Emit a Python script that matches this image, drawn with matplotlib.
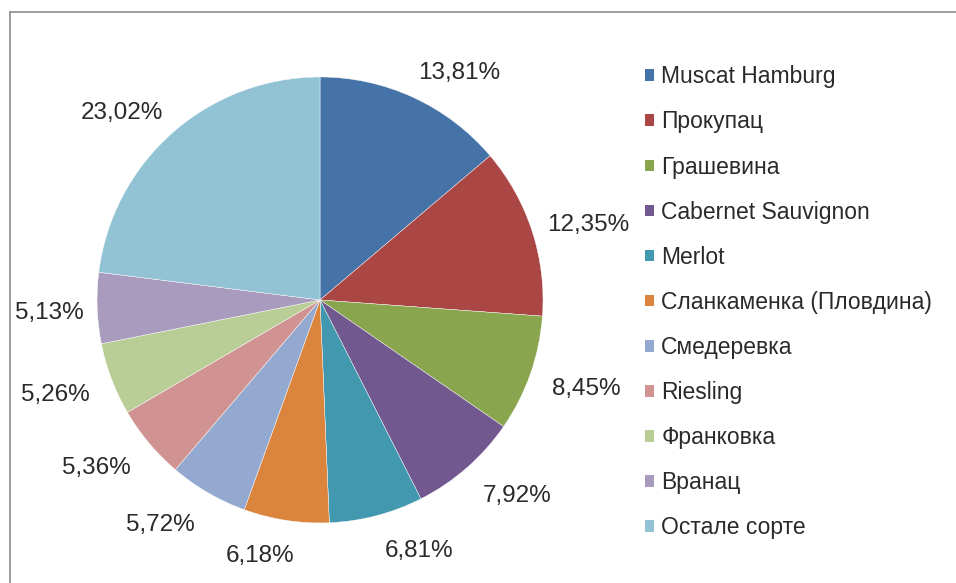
import matplotlib.pyplot as plt
import numpy as np
from matplotlib.patches import Patch
from matplotlib.lines import Line2D

plt.rcParams['font.family'] = ['Liberation Sans', 'DejaVu Sans']

sorts = ["Muscat Hamburg", "Прокупац", "Грашевина", "Cabernet Sauvignon", "Merlot",
         "Сланкаменка (Пловдина)", "Смедеревка", "Riesling", "Франковка", "Вранац",
         "Остале сорте"]
shares = [13.81, 12.35, 8.45, 7.92, 6.81, 6.18, 5.72, 5.36, 5.26, 5.13, 23.02]
colors = ["#4572A7", "#AA4643", "#89A54E", "#71588F", "#4198AF", "#DB843D",
          "#93A9CF", "#D19392", "#B9CD96", "#A99BBD", "#92C3D5"]

fig = plt.figure(figsize=(9.56, 5.83), dpi=100)
ax = fig.add_axes([0.1015, 0.103, 0.4665, 0.765])

wedges, _ = ax.pie(shares, colors=colors, startangle=90, counterclock=False,
                   wedgeprops=dict(edgecolor="white", linewidth=0.3))
ax.set_xlim(-1, 1)
ax.set_ylim(-1, 1)
ax.set_aspect("equal")

# labels sit just outside the rim, box corner turned towards the pie (Excel style)
labels = []
for w, v in zip(wedges, shares):
    ang = np.deg2rad((w.theta1 + w.theta2) / 2)
    c, s = np.cos(ang), np.sin(ang)
    t = ax.annotate(f"{v:.2f}%".replace(".", ","), xy=(1.09 * c, 1.09 * s),
                    xytext=(27 * np.clip(4 * c, -1, 1), 8.5 * s - 3), textcoords="offset points",
                    ha="center", va="center", fontsize=17.5, color="#2a2a2a",
                    annotation_clip=False)
    labels.append(t)

# keep labels inside the chart frame, as Excel does
fig.canvas.draw()
left_px = 15
for t in labels:
    bb = t.get_window_extent()
    if bb.x0 < left_px:
        dx, dy = t.xyann
        t.xyann = (dx + (left_px - bb.x0) * 72 / fig.dpi, dy)

handles = [Patch(facecolor=c, edgecolor="none") for c in colors]
fig.legend(handles, sorts, loc="upper left", bbox_to_anchor=(0.675, 0.888),
           frameon=False, fontsize=16.5, handlelength=0.4, handleheight=0.4,
           handletextpad=0.3, labelspacing=0.965, borderpad=0, borderaxespad=0,
           labelcolor="#2a2a2a")

# frame of the chart area (only top and left edges show in the crop)
fig.add_artist(Line2D([10 / 956, 10 / 956], [0, 1 - 12 / 583], color="#8c8c8c", lw=1.2))
fig.add_artist(Line2D([10 / 956, 1], [1 - 12 / 583, 1 - 12 / 583], color="#8c8c8c", lw=1.2))

fig.savefig("out.png", dpi=100)
